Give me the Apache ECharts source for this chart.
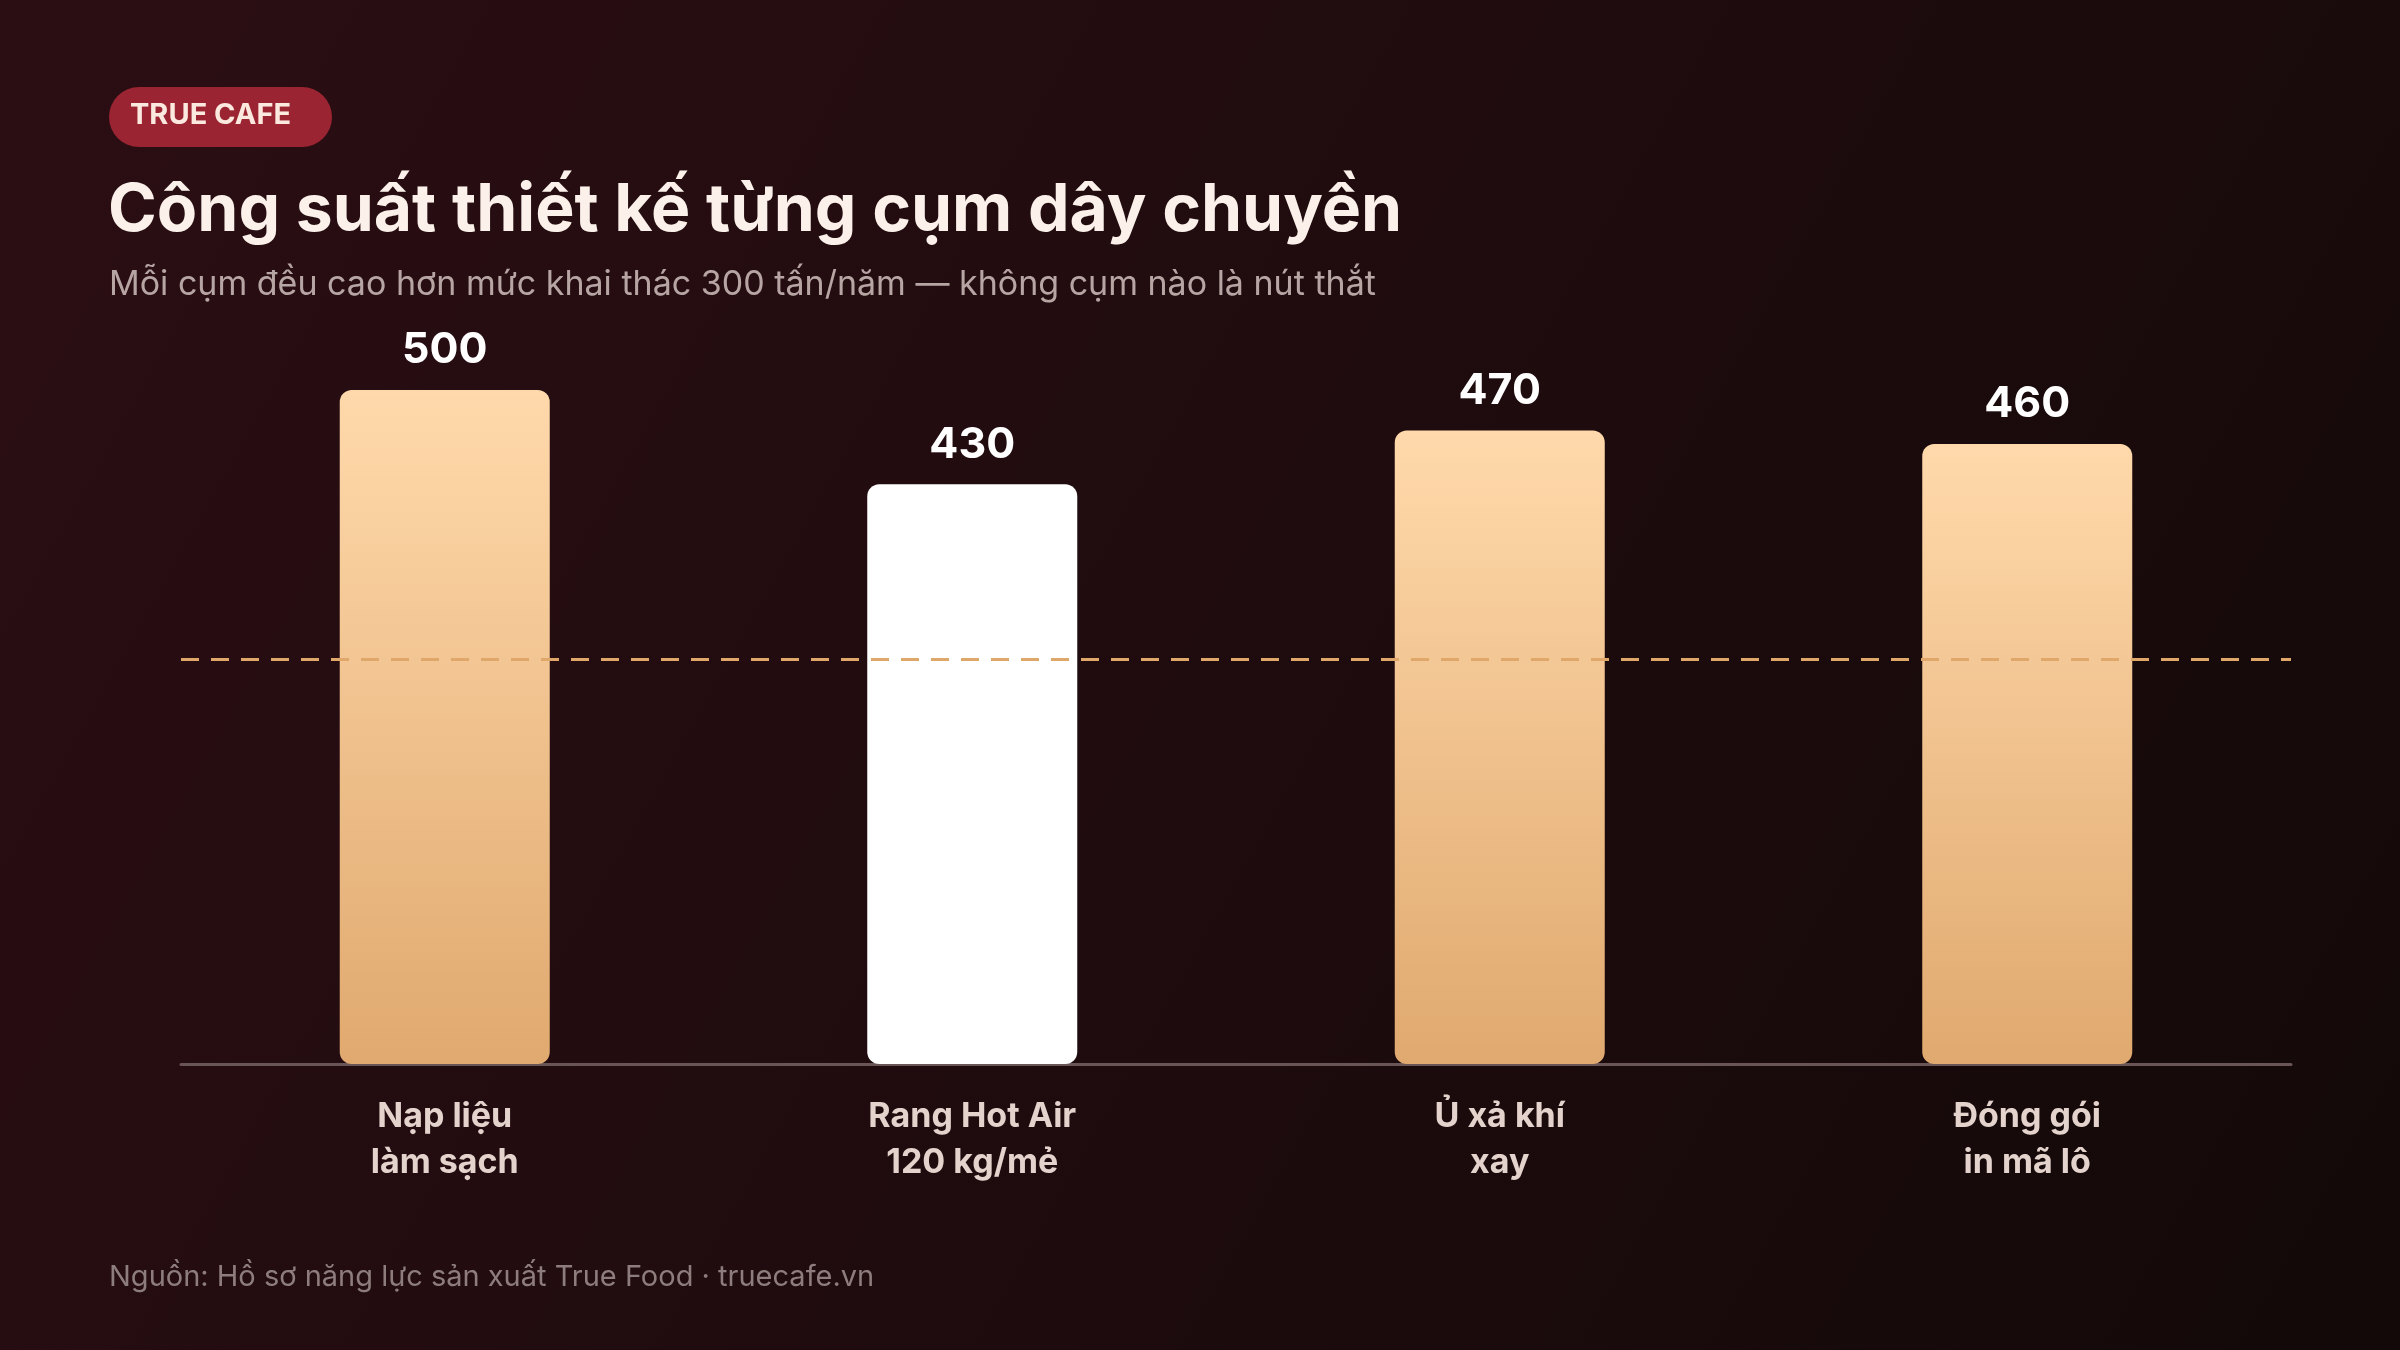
<!DOCTYPE html>
<html><head><meta charset="utf-8">
<script src="https://cdn.jsdelivr.net/npm/echarts@6/dist/echarts.min.js"></script>
<style>html,body{margin:0;padding:0;background:#1a0b0e}#c{width:2400px;height:1350px}</style>
</head><body><div id="c"></div>
<script>
const categories = ['Nạp liệu\nlàm sạch', 'Rang Hot Air\n120 kg/mẻ', 'Ủ xả khí\nxay', 'Đóng gói\nin mã lô'];
const values = [500, 430, 470, 460];
const highlightIndex = 1;
const thresholdValue = 300;

const font = 'Inter, "Noto Sans", sans-serif';
const chart = echarts.init(document.getElementById('c'));
const barGrad = new echarts.graphic.LinearGradient(0,0,0,1,[{offset:0,color:'#ffd9ab'},{offset:1,color:'#e0a96f'}]);
chart.setOption({
  backgroundColor: new echarts.graphic.LinearGradient(0,0,1,1,[{offset:0,color:'#2b0e14'},{offset:1,color:'#130909'}]),
  graphic: [
    {type:'rect', left:109, top:87, shape:{width:223,height:60,r:30}, style:{fill:'#9a2431'}},
    {type:'text', left:130, top:101, style:{text:'TRUE CAFE', fill:'#fbe9df', font:'bold 29px '+font, letterSpacing:2}},
    {type:'text', left:108, top:178, style:{text:'Công suất thiết kế từng cụm dây chuyền', fill:'#fbf1ea', font:'bold 66px '+font}},
    {type:'text', left:109, top:268, style:{text:'Mỗi cụm đều cao hơn mức khai thác 300 tấn/năm — không cụm nào là nút thắt', fill:'#b7a5a4', font:'34px '+font}},
    {type:'text', left:109, top:1263, style:{text:'Nguồn: Hồ sơ năng lực sản xuất True Food · truecafe.vn', fill:'#8d7d7c', font:'29px '+font}}
  ],
  grid: {left:181, right:109, top:390, bottom:286},
  xAxis: {type:'category', data:categories, axisTick:{show:false},
    axisLine:{lineStyle:{color:'#6a5556', width:3}},
    axisLabel:{color:'#e3d3cc', fontWeight:'bold', fontSize:34, lineHeight:46, margin:30, fontFamily:font}},
  yAxis: {type:'value', min:0, max:500, show:false, splitLine:{show:false}},
  series: [{
    type:'bar', barWidth:210,
    data: values.map((v,i)=>({value:v, itemStyle:{color: i===highlightIndex ? '#ffffff' : barGrad}})),
    itemStyle:{borderRadius:12},
    label:{show:true, position:'top', distance:18, color:'#ffffff', fontWeight:'bold', fontSize:43, fontFamily:font},
    markLine:{symbol:'none', silent:true, label:{show:false},
      lineStyle:{color:'#e0a76b', type:[18,12], width:3},
      data:[{yAxis:thresholdValue}]}
  }]
});
</script></body></html>
